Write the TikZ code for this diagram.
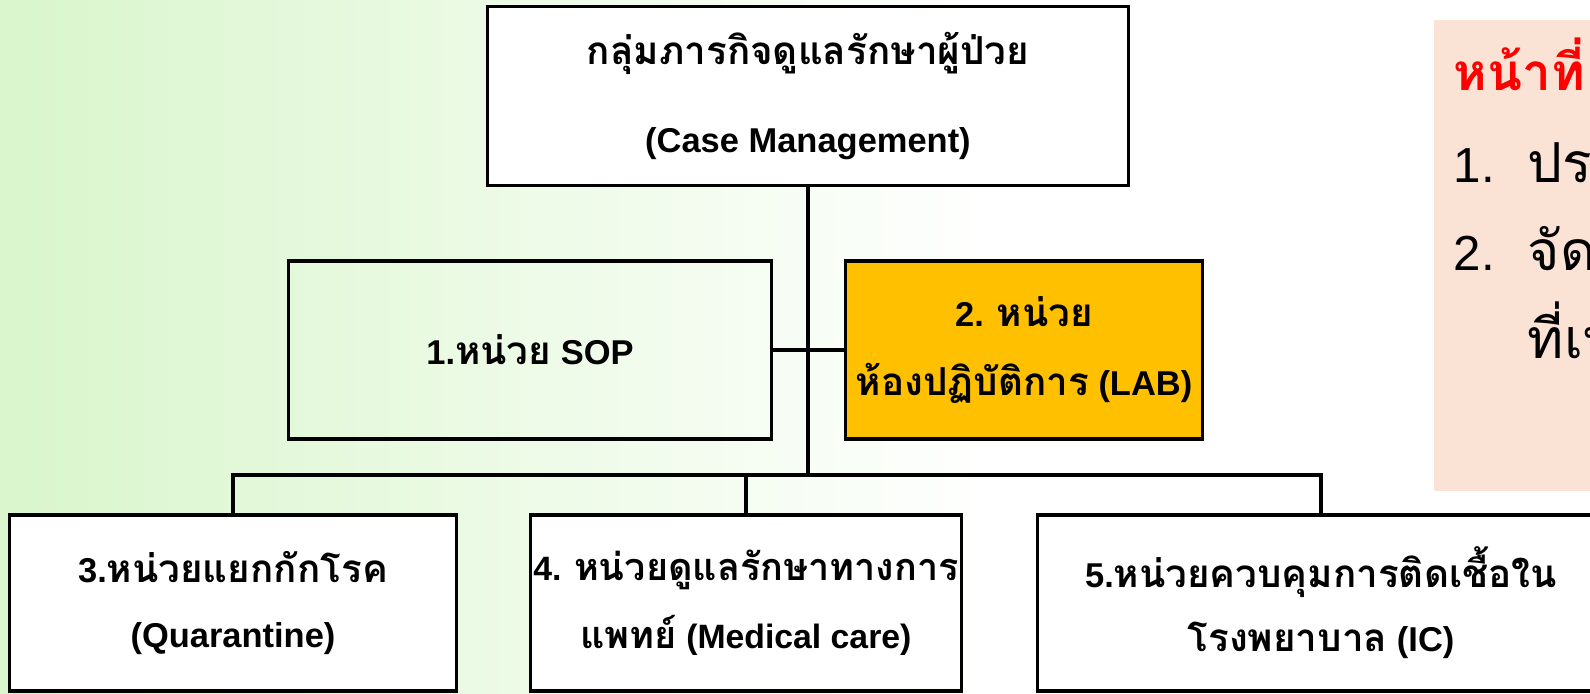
\documentclass[tikz,border=0pt]{standalone}
\usepackage{fontspec}
\setmainfont{Liberation Sans}
\newfontfamily\thaifont[Script=Thai,Scale=1.12]{Loma}
\newcommand{\thai}[1]{{\thaifont #1}}
\definecolor{bggreen}{HTML}{D9F6CC}
\definecolor{labfill}{HTML}{FFC000}
\definecolor{notefill}{HTML}{FAE2D5}

\tikzstyle{unit}=[draw=black,line width=0.9pt,fill=white,inner sep=0pt,align=center,font=\bfseries\fontsize{9.8}{12}\selectfont]
\tikzstyle{link}=[draw=black,line width=0.9pt]
\tikzstyle{note}=[anchor=base west,inner sep=0pt,font=\fontsize{14}{17}\selectfont]

\begin{document}
\begin{tikzpicture}[x=0.01cm,y=-0.01cm]
			\clip (0,0) rectangle (1590,693);
			\shade[left color=bggreen,right color=white] (0,0) rectangle (1000,693);
			\fill[white] (1000,0) rectangle (1590,693);
			% the boxes
			\node[unit,minimum width=6.41cm,minimum height=1.79cm] (case) at (808,96) {\thai{กลุ่มภารกิจดูแลรักษาผู้ป่วย}\\[0.46cm](Case Management)};
			\node[unit,fill=none,minimum width=4.82cm,minimum height=1.78cm] (sop) at (530,350) {1.\thai{หน่วย} SOP};
			\node[unit,fill=labfill,minimum width=3.57cm,minimum height=1.78cm] (lab) at (1024,350) {2. \thai{หน่วย}\\[0.26cm]\thai{ห้องปฏิบัติการ} (LAB)};
			\node[unit,minimum width=4.46cm,minimum height=1.76cm] (quar) at (233,603) {3.\thai{หน่วยแยกกักโรค}\\[0.22cm](Quarantine)};
			\node[unit,minimum width=4.31cm,minimum height=1.76cm,font=\bfseries\fontsize{9.6}{12}\selectfont] (med) at (746,603) {4. \thai{หน่วยดูแลรักษาทางการ}\\[0.22cm]\thai{แพทย์} (Medical care)};
			\node[unit,minimum width=5.66cm,minimum height=1.76cm] (ic) at (1321,603) {5.\thai{หน่วยควบคุมการติดเชื้อใน}\\[0.22cm]\thai{โรงพยาบาล} (IC)};
			\coordinate (hub) at (808,475);
			% the lines between them
			\draw[link] (case.south) -- (hub);
			\draw[link] (sop) -- (lab);
			\draw[link] (quar.north) |- (hub) -| (ic.north);
			\draw[link] (med.north) -- (med.north |- hub);
			% the duty panel on the right
			\node[fill=notefill,inner sep=0pt,minimum width=1.7cm,minimum height=4.71cm,anchor=north west] (duty) at (1433,19) {};
			\node[note,text=red,font=\bfseries\fontsize{13}{16}\selectfont] (title) at (1453,90) {\thai{หน้าที่}};
			\node[note] (n1) at (1453,182) {1.};
			\node[note] (t1) at (1527,182) {\thai{ประสาน}};
			\node[note] (n2) at (1453,270) {2.};
			\node[note] (t2) at (1527,270) {\thai{จัดหา}};
			\node[note] (t3) at (1527,358) {\thai{ที่เหมาะสม}};
		\end{tikzpicture}
\end{document}
